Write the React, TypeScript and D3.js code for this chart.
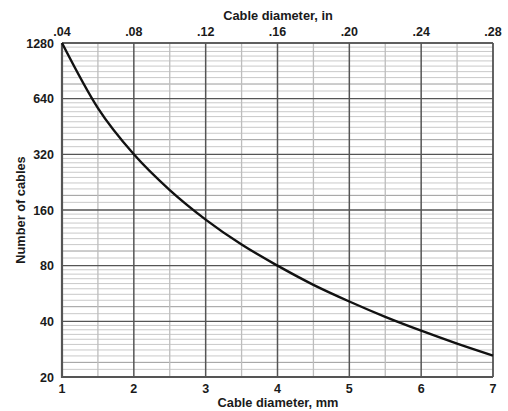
import React from "react";
import * as d3 from "d3";

const diameterMm = [1, 1.5, 2, 2.5, 3, 3.5, 4, 4.5, 5, 5.5, 6, 6.5, 7];
const cableCount = [1280, 569, 320, 205, 142, 104, 80, 63, 51.2, 42.3, 35.6, 30.3, 26.1];
const mmTicks = [1, 2, 3, 4, 5, 6, 7];
const mmHalfTicks = [1.5, 2.5, 3.5, 4.5, 5.5, 6.5];
const inTicks = [0.04, 0.08, 0.12, 0.16, 0.2, 0.24, 0.28];
const inTickLabels = [".04", ".08", ".12", ".16", ".20", ".24", ".28"];
const yTicks = [20, 40, 80, 160, 320, 640, 1280];
const minorFactors = [1.1, 1.2, 1.3, 1.4, 1.5, 1.6, 1.7, 1.8, 1.9];

const W = 508;
const H = 411;
const M = { left: 62, right: 493, top: 43, bottom: 377 };
const FONT = "'Liberation Sans', Arial, Helvetica, sans-serif";

export default function App() {
  const x = d3.scaleLinear().domain([1, 7]).range([M.left, M.right]);
  const xIn = d3.scaleLinear().domain([0.04, 0.28]).range([M.left, M.right]);
  const y = d3.scaleLog().base(2).domain([20, 1280]).range([M.bottom, M.top]);

  const minorY: { v: number; dark: boolean }[] = [];
  yTicks.slice(0, -1).forEach((t) => {
    minorFactors.forEach((f) => minorY.push({ v: t * f, dark: f === 1.2 }));
  });

  const line = d3
    .line<number>()
    .x((_, i) => x(diameterMm[i]))
    .y((d) => y(d))
    .curve(d3.curveMonotoneX);

  return (
    <svg
      width={W}
      height={H}
      style={{ position: "absolute", left: 0, top: 0, background: "#fff" }}
      fontFamily={FONT}
      fontWeight="bold"
    >
      <rect x={0} y={0} width={W} height={H} fill="#fff" />
      {minorY.map((m, i) => (
        <line
          key={"mh" + i}
          x1={M.left}
          x2={M.right}
          y1={y(m.v)}
          y2={y(m.v)}
          stroke={m.dark ? "#9a9a9a" : "#c9c9c9"}
          strokeWidth={1}
        />
      ))}
      {mmHalfTicks.map((t) => (
        <line
          key={"mv" + t}
          x1={x(t)}
          x2={x(t)}
          y1={M.top}
          y2={M.bottom}
          stroke="#bdbdbd"
          strokeWidth={1.3}
        />
      ))}
      {yTicks.map((t) => (
        <line
          key={"Mh" + t}
          x1={M.left}
          x2={M.right}
          y1={y(t)}
          y2={y(t)}
          stroke="#555"
          strokeWidth={1.3}
        />
      ))}
      {mmTicks.map((t) => (
        <line
          key={"Mv" + t}
          x1={x(t)}
          x2={x(t)}
          y1={M.top}
          y2={M.bottom}
          stroke="#555"
          strokeWidth={1.5}
        />
      ))}
      <line x1={M.left} x2={M.right} y1={M.top} y2={M.top} stroke="#555" strokeWidth={1.3} />
      <line x1={M.right} x2={M.right} y1={M.top} y2={M.bottom} stroke="#555" strokeWidth={1.3} />
      <line x1={M.left} x2={M.left} y1={M.top} y2={M.bottom + 1} stroke="#555" strokeWidth={2.2} />
      <line x1={M.left - 1} x2={M.right} y1={M.bottom} y2={M.bottom} stroke="#555" strokeWidth={2.2} />

      <path d={line(cableCount) || ""} fill="none" stroke="#111" strokeWidth={2.4} />

      {yTicks.map((t) => (
        <text key={"yl" + t} x={54} y={y(t)} dy="0.36em" textAnchor="end" fontSize={12.5} fill="#1a1a1a">
          {t}
        </text>
      ))}
      {mmTicks.map((t) => (
        <text key={"xl" + t} x={x(t)} y={393} textAnchor="middle" fontSize={12.5} fill="#1a1a1a">
          {t}
        </text>
      ))}
      {inTicks.map((t, i) => (
        <text key={"tl" + t} x={xIn(t)} y={36} textAnchor="middle" fontSize={12.5} fill="#1a1a1a">
          {inTickLabels[i]}
        </text>
      ))}
      <text x={278} y={407} textAnchor="middle" fontSize={12.8} fill="#1a1a1a">
        Cable diameter, mm
      </text>
      <text x={278} y={20} textAnchor="middle" fontSize={12.8} fill="#1a1a1a">
        Cable diameter, in
      </text>
      <text
        transform={`translate(25,210) rotate(-90)`}
        textAnchor="middle"
        fontSize={12.8}
        fill="#1a1a1a"
      >
        Number of cables
      </text>
    </svg>
  );
}
